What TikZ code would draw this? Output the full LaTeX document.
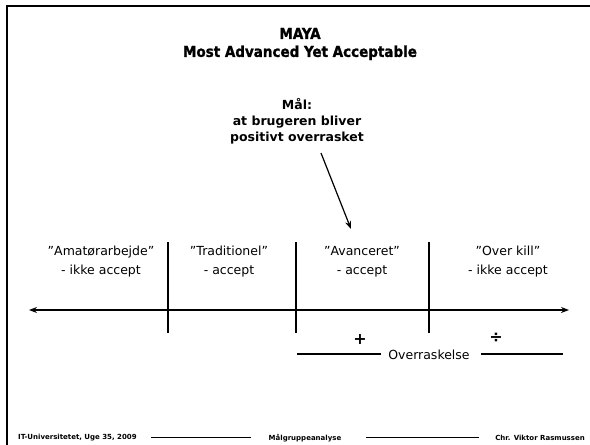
\documentclass[tikz,border=0pt]{standalone}
\usepackage{fontspec}
\setmainfont{DejaVu Sans}
\newfontfamily\titlefont[BoldFeatures={FakeBold=1.2}]{DejaVu Sans Condensed}
\usetikzlibrary{arrows.meta}
\tikzset{
  frameline/.style={line width=2pt, line cap=rect},
  axisline/.style={line width=1.2pt},
  divline/.style={line width=1.4pt},
  bodytxt/.style={font=\fontsize{12.5}{19}\selectfont, align=center, inner sep=0pt},
  goaltxt/.style={font=\fontsize{12.5}{16}\selectfont\bfseries, align=center, inner sep=0pt},
  foottxt/.style={font=\fontsize{7}{8}\selectfont\bfseries, inner sep=0pt},
  tip/.style={-{Stealth[length=8pt,width=6pt]}},
}
\begin{document}
\begin{tikzpicture}[x=1pt,y=-1pt]
\useasboundingbox (0,0) rectangle (590,445);
% frame
\draw[frameline] (7,445) -- (7,6) -- (590,6);
% title
\node[font=\titlefont\bfseries\fontsize{15}{18}\selectfont, align=center, inner sep=0pt] (title) at (300,44) {MAYA\\Most Advanced Yet Acceptable};
% goal
\node[goaltxt] (goal) at (297,121.5) {Mål:\\at brugeren bliver\\positivt overrasket};
\coordinate (gstart) at (321,153);
\coordinate (gend) at (351,229);
\draw[line width=1.2pt, tip] (gstart) -- (gend);
% axis
\coordinate (axl) at (29,310);
\coordinate (axr) at (569,310);
\draw[axisline, {Stealth[length=8pt,width=6pt]}-{Stealth[length=8pt,width=6pt]}] (axl) -- (axr);
\coordinate (m1) at (296,310);
\coordinate (m2) at (429,310);
\draw[line width=2pt] (m1) -- (m2);
% dividers
\foreach \n/\x in {d1/168, d2/296, d3/429}{
  \coordinate (\n t) at (\x,242);
  \coordinate (\n b) at (\x,333);
  \draw[divline] (\n t) -- (\n b);
}
% category labels
\node[bodytxt] (c1) at (101,261.5) {”Amatørarbejde”\\- ikke accept};
\node[bodytxt] (c2) at (229,261.5) {”Traditionel”\\- accept};
\node[bodytxt] (c3) at (362,261.5) {”Avanceret”\\- accept};
\node[bodytxt] (c4) at (508,261.5) {”Over kill”\\- ikke accept};
% plus / minus
\node[font=\fontsize{16}{16}\selectfont\bfseries, inner sep=0pt] (plus) at (360,339) {+};
\node[font=\fontsize{16}{16}\selectfont\bfseries, inner sep=0pt] (minus) at (496,338) {÷};
% surprise
\node[bodytxt] (surp) at (429,355) {Overraskelse};
\coordinate (s1) at (297,354);
\coordinate (s2) at (563,354);
\draw[line width=1.2pt] (s1) -- ([xshift=-7pt]surp.west |- s1);
\draw[line width=1.2pt] ([xshift=11pt]surp.east |- s2) -- (s2);
% footer
\node[foottxt, anchor=west] (f1) at (18,438) {IT-Universitetet, Uge 35, 2009};
\node[foottxt] (f2) at (305,438) {Målgruppeanalyse};
\node[foottxt, anchor=east] (f3) at (585,438) {Chr. Viktor Rasmussen};
\coordinate (fl1a) at (151,437);
\coordinate (fl1b) at (251,437);
\coordinate (fl2a) at (366,437);
\coordinate (fl2b) at (479,437);
\draw[line width=0.8pt] (fl1a) -- (fl1b);
\draw[line width=0.8pt] (fl2a) -- (fl2b);
\end{tikzpicture}
\end{document}
